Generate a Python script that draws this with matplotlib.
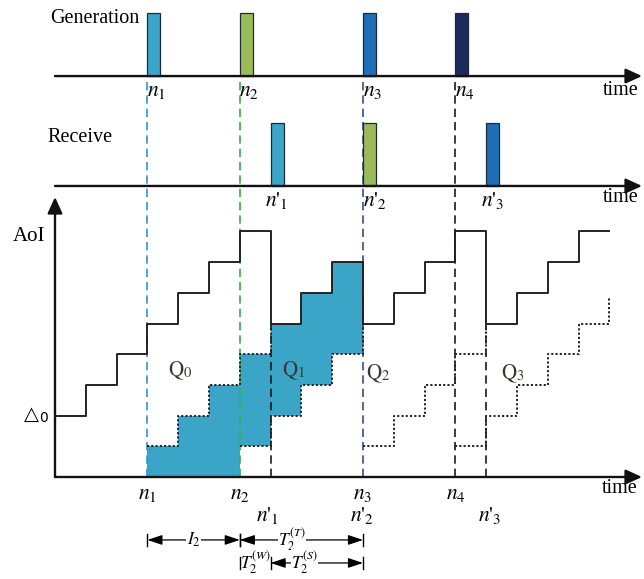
import numpy as np
import matplotlib.pyplot as plt

plt.rcParams['mathtext.fontset'] = 'stix'
plt.rcParams['font.family'] = ['Liberation Serif', 'DejaVu Serif']

# ===== data (time in slots, AoI in steps) =====
gen_labels = [r'$n_{\mathit{1}}$', r'$n_{\mathit{2}}$', r'$n_{\mathit{3}}$', r'$n_{\mathit{4}}$']
gen_times = [3, 6, 10, 13]
recv_labels = [r"$n\text{'}_{\mathit{1}}$", r"$n\text{'}_{\mathit{2}}$", r"$n\text{'}_{\mathit{3}}$"]
recv_times = [7, 10, 14]

aoi_times = [0, 1, 2, 3, 4, 5, 6, 7, 8, 9, 10, 11, 12, 13, 14, 15, 16, 17, 18]
aoi_levels = [2, 3, 4, 5, 6, 7, 8, 5, 6, 7, 5, 6, 7, 8, 5, 6, 7, 8]

# age of each generated packet (dotted), one value per slot + end value
age_starts = [3, 6, 10, 13]
age_levels = [
    [1, 2, 3, 4, 5],
    [1, 2, 3, 4, 5],
    [1, 2, 3, 4, 5],
    [1, 2, 3, 4, 5, 5.85],
]

q0_t = [3, 4, 5, 6]
q0_top = [1, 2, 3, 3]
q1_t = [6, 7, 8, 9, 10]
q1_top = [4, 5, 6, 7, 7]
q1_bot = [1, 2, 3, 4, 4]

q_labels = [r'$\mathrm{Q}_0$', r'$\mathrm{Q}_1$', r'$\mathrm{Q}_2$', r'$\mathrm{Q}_3$']
q_pos = [(4.05, 3.45), (7.75, 3.45), (10.5, 3.35), (14.85, 3.35)]

# ===== layout / style =====
X0_PX, SLOT_PX, BASE_PX, STEP_PX = 55, 30.8, 477, 30.7
W_PX, H_PX = 644, 579
Y_GEN, Y_RECV = 13.06, 9.48
BAR_W, BAR_H = 0.42, 2.05
X_END = (642 - X0_PX) / SLOT_PX

bar_colors = ['#3ba6c8', '#9bbb59', '#1f6fb6', '#1c2b5c']
dash_colors = ['#3d8fd6', '#2fb34c', '#3a4c8c', '#1a1a1a']
fill_color = '#3aa5c6'
dash = (0, (5, 3))
dots = (0, (1.1, 1.1))


def axis_arrow(ax, start, end):
    ax.annotate('', xy=end, xytext=start,
                arrowprops=dict(arrowstyle='-|>,head_length=0.7,head_width=0.32',
                                lw=1.7, color='#111111', shrinkA=0, shrinkB=0,
                                mutation_scale=14))


def step_path(t0, levels):
    xs, ys = [], []
    for k in range(len(levels) - 1):
        xs += [t0 + k, t0 + k + 1, t0 + k + 1]
        ys += [levels[k], levels[k], levels[k + 1]]
    return xs, ys


def interval(ax, x1, x2, y, label, lx):
    ax.annotate('', xy=(x2, y), xytext=(x1, y),
                arrowprops=dict(arrowstyle='<|-|>,head_length=0.9,head_width=0.3',
                                lw=0.9, color='black', shrinkA=0, shrinkB=0,
                                mutation_scale=10))
    for x in (x1, x2):
        ax.plot([x, x], [y - 0.2, y + 0.2], color='black', lw=1.0)
    ax.text(lx, y, label, ha='center', va='center', fontsize=12.5,
            bbox=dict(facecolor='white', edgecolor='none', pad=0.3))


fig = plt.figure(figsize=(W_PX / 100, H_PX / 100), dpi=100)
ax = fig.add_axes([0, 0, 1, 1])
ax.set_xlim(-X0_PX / SLOT_PX, (W_PX - X0_PX) / SLOT_PX)
ax.set_ylim(-(H_PX - BASE_PX) / STEP_PX, BASE_PX / STEP_PX)
ax.axis('off')

# ---- generation panel ----
ax.text(-0.16, 14.95, 'Generation', fontsize=14.5, va='center', ha='left')
for t, c, lab in zip(gen_times, bar_colors, gen_labels):
    ax.add_patch(plt.Rectangle((t, Y_GEN), BAR_W, BAR_H, facecolor=c,
                               edgecolor='#1d2b33', lw=0.9, zorder=3))
    ax.text(t + 0.3, 12.55, lab, fontsize=15.5, ha='center', va='center', zorder=4)
axis_arrow(ax, (0, Y_GEN), (X_END, Y_GEN))
ax.text(17.8, 12.6, 'time', fontsize=14.5, va='center', ha='left')

# ---- receive panel ----
ax.text(-0.26, 11.07, 'Receive', fontsize=14.5, va='center', ha='left')
recv_colors = bar_colors[:3]
recv_lx = [7.2, 10.4, 14.2]
for t, c, lab, lx in zip(recv_times, recv_colors, recv_labels, recv_lx):
    ax.add_patch(plt.Rectangle((t, Y_RECV), BAR_W, BAR_H, facecolor=c,
                               edgecolor='#1d2b33', lw=0.9, zorder=3))
    ax.text(lx, 9.0, lab, fontsize=15.5, ha='center', va='center', zorder=4)
axis_arrow(ax, (0, Y_RECV), (X_END, Y_RECV))
ax.text(17.8, 9.09, 'time', fontsize=14.5, va='center', ha='left')

# ---- AoI panel ----
ax.fill_between(q0_t, 0, q0_top, step='post', color=fill_color, lw=0, zorder=1)
ax.fill_between(q1_t, q1_bot, q1_top, step='post', color=fill_color, lw=0, zorder=1)

# generation instants (dashed, across all panels)
for t, c in zip(gen_times, dash_colors):
    ax.plot([t, t], [0, Y_GEN], color=c, lw=1.2, ls=dash, zorder=2)
# reception instants inside AoI panel
for t in recv_times:
    if t in gen_times:
        continue
    ax.plot([t, t], [0, 5], color='#1a1a1a', lw=1.2, ls=dash, zorder=2)

for t0, lv in zip(age_starts, age_levels):
    xs, ys = step_path(t0, lv)
    ax.plot(xs, ys, color='#222222', lw=1.4, ls=dots, zorder=3)

ax.step(aoi_times, aoi_levels + [aoi_levels[-1]], where='post',
        color='#222222', lw=1.4, zorder=4)

axis_arrow(ax, (0, 0), (X_END, 0))
axis_arrow(ax, (0, 0), (0, 9.12))
ax.text(-0.84, 7.85, 'AoI', fontsize=15, ha='center', va='center')
ax.text(-0.78, 2.05, '\u25b3', fontsize=14, ha='center', va='center',
        family='DejaVu Sans')
ax.text(-0.38, 1.92, '0', fontsize=10, ha='center', va='center',
        family='DejaVu Sans')

for lab, (x, y) in zip(q_labels, q_pos):
    ax.text(x, y, lab, fontsize=15, ha='center', va='center', color='#3a3530', zorder=5)

# axis labels under the time axis
for t, lab in zip(gen_times, gen_labels):
    ax.text(t, -0.57, lab, fontsize=15.5, ha='center', va='center')
bottom_recv_lx = [6.9, 9.97, 14.1]
for lx, lab in zip(bottom_recv_lx, recv_labels):
    ax.text(lx, -1.26, lab, fontsize=15.5, ha='center', va='center')
ax.text(17.75, -0.39, 'time', fontsize=14.5, va='center', ha='left')

# ---- interval annotations ----
interval(ax, gen_times[0], gen_times[1], -2.05, r'$I_2$', 4.5)
interval(ax, gen_times[1], gen_times[2], -2.05, r'$T_2^{(T)}$', 7.7)
interval(ax, recv_times[0], gen_times[2], -2.8, r'$T_2^{(S)}$', 8.1)
ax.plot([gen_times[1], gen_times[1]], [-3.0, -2.6], color='black', lw=1.0)
ax.text(6.5, -2.8, r'$T_2^{(W)}$', fontsize=12.5, ha='center', va='center')

fig.savefig('out.png', dpi=100)
plt.close(fig)
